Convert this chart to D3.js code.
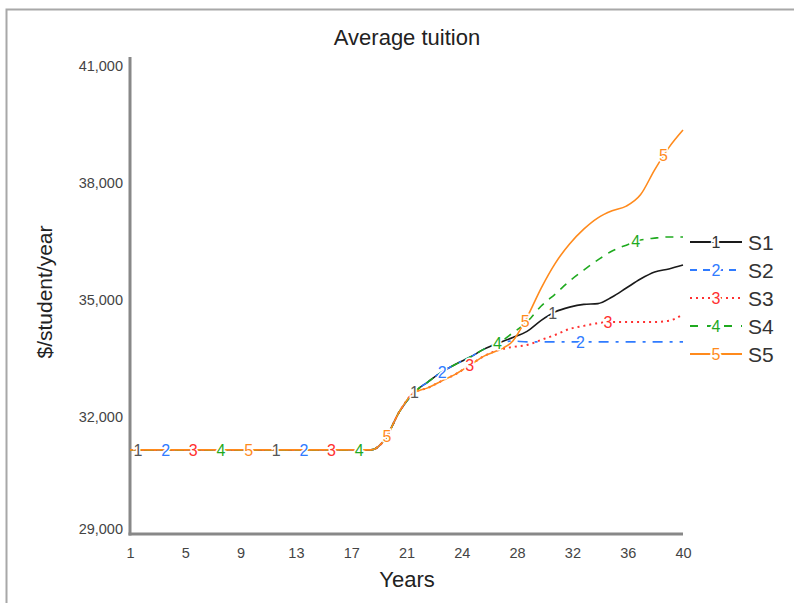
<!DOCTYPE html>
<html><head><meta charset="utf-8">
<script src="https://cdn.jsdelivr.net/npm/d3@7/dist/d3.min.js"></script>
<style>body{margin:0;background:#fff;} svg text{font-family:"Liberation Sans",Arial,sans-serif;}</style>
</head><body><svg id="c" width="794" height="603"></svg>
<script>
// ---- data ----
const years = [1,2,3,4,5,6,7,8,9,10,11,12,13,14,15,16,17,18,19,20,21,22,23,24,25,26,27,28,29,30,31,32,33,34,35,36,37,38,39,40];
const seriesNames = ["S1","S2","S3","S4","S5"];
const s1 = [31080,31080,31080,31080,31080,31080,31080,31080,31080,31080,31080,31080,31080,31080,31080,31080,31080,31080,
  31360,32060,32540,32820,33080,33280,33460,33670,33820,33960,34120,34400,34620,34740,34810,34830,35000,35230,35460,35640,35720,35820];
const s2 = [31080,31080,31080,31080,31080,31080,31080,31080,31080,31080,31080,31080,31080,31080,31080,31080,31080,31080,
  31360,32060,32540,32820,33080,33280,33460,33670,33820,33870,33850,33850,33850,33850,33850,33850,33850,33850,33850,33850,33850,33850];
const s3 = [31080,31080,31080,31080,31080,31080,31080,31080,31080,31080,31080,31080,31080,31080,31080,31080,31080,31080,
  31360,32060,32540,32670,32850,33030,33260,33490,33640,33720,33770,33900,34030,34180,34260,34330,34360,34360,34360,34360,34390,34560];
const s4 = [31080,31080,31080,31080,31080,31080,31080,31080,31080,31080,31080,31080,31080,31080,31080,31080,31080,31080,
  31360,32060,32540,32820,33080,33280,33460,33670,33820,34080,34360,34770,35080,35410,35690,35950,36180,36330,36460,36510,36540,36540];
const s5 = [31080,31080,31080,31080,31080,31080,31080,31080,31080,31080,31080,31080,31080,31080,31080,31080,31080,31080,
  31360,32060,32540,32670,32850,33030,33260,33490,33640,33870,34480,35230,35870,36360,36740,37030,37210,37330,37620,38260,38830,39280];
const yTicks = [29000,32000,35000,38000,41000];
const xTickLabels = ["1","5","9","13","17","21","24","28","32","36","40"];

// ---- styles ----
const colors = ["#1a1a1a","#2f7bff","#ff3030","#1faa1f","#ff8a1c"];
const labelColors = ["#555","#2f7bff","#ff3030","#1faa1f","#ff8a1c"];
const dashes = [null,"10,7,3,7","2,4","8,7",null];

const svg = d3.select("#c");
svg.append("rect").attr("x",6.5).attr("y",9.5).attr("width",820).attr("height",640)
  .attr("fill","none").attr("stroke","#a8a8a8").attr("stroke-width",2);

const x = d3.scaleLinear().domain([1,40]).range([130,683]);
const y = d3.scaleLinear().domain([29000,41000]).range([531,63]);

// title
svg.append("text").attr("x",407).attr("y",45).attr("text-anchor","middle")
  .attr("font-size",22).attr("fill","#222").text("Average tuition");

// axes lines
svg.append("line").attr("x1",130).attr("x2",130).attr("y1",57).attr("y2",535.5).attr("stroke","#888").attr("stroke-width",3);
svg.append("line").attr("x1",128.5).attr("x2",683).attr("y1",534).attr("y2",534).attr("stroke","#888").attr("stroke-width",3);

// y ticks
const yAxis = d3.axisLeft(y).tickValues(yTicks).tickSize(0).tickPadding(7).tickFormat(d3.format(","));
const gy = svg.append("g").attr("transform","translate(130,0)").call(yAxis);
gy.select(".domain").remove();
gy.selectAll("text").attr("font-size",14.5).attr("fill","#444").attr("font-family","Liberation Sans, Arial, sans-serif")
  .attr("dy", d => d===29000 ? "0.2em" : "0.55em");

// x ticks
const xTickVals = xTickLabels.map((l,i)=> 1 + i*(39/(xTickLabels.length-1)));
const xAxis = d3.axisBottom(x).tickValues(xTickVals).tickSize(0).tickPadding(14)
  .tickFormat((d,i)=>xTickLabels[i]);
const gx = svg.append("g").attr("transform","translate(0,534)").call(xAxis);
gx.select(".domain").remove();
gx.selectAll("text").attr("font-size",14.5).attr("fill","#444").attr("font-family","Liberation Sans, Arial, sans-serif");

// axis titles
svg.append("text").attr("x",407).attr("y",587).attr("text-anchor","middle")
  .attr("font-size",22).attr("fill","#222").text("Years");
svg.append("text").attr("transform","translate(52,292) rotate(-90)").attr("text-anchor","middle")
  .attr("font-size",21).attr("fill","#222").text("$/student/year");

// lines
const allSeries = [s1,s2,s3,s4,s5];
const line = d3.line().x((d,i)=>x(years[i])).y(d=>y(d)).curve(d3.curveMonotoneX);
const paths = allSeries.map((s,i)=>{
  const p = svg.append("path").datum(s).attr("d",line).attr("fill","none")
    .attr("stroke",colors[i]).attr("stroke-width", i===2?2:1.6);
  if(dashes[i]) p.attr("stroke-dasharray",dashes[i]);
  return p;
});

// number labels along lines
function pointAtX(node, tx){
  const L = node.getTotalLength();
  let lo=0, hi=L;
  for(let k=0;k<40;k++){
    const mid=(lo+hi)/2;
    if(node.getPointAtLength(mid).x < tx) lo=mid; else hi=mid;
  }
  return node.getPointAtLength((lo+hi)/2);
}
const lblG = svg.append("g");
for(let k=0;k<20;k++){
  const si = k%5;
  const t = 1 + 1.95*(k+0.29);
  const pt = pointAtX(paths[si].node(), x(t));
  lblG.append("text").attr("x",pt.x).attr("y",pt.y).attr("dy","0.36em").attr("text-anchor","middle")
    .attr("font-size",16).attr("fill",labelColors[si])
    .attr("stroke","#fff").attr("stroke-width",3).attr("paint-order","stroke")
    .text(String(si+1));
}

// legend
const legY = d3.scalePoint().domain(seriesNames).range([242,354]);
seriesNames.forEach((n,i)=>{
  const yy = legY(n);
  const l = svg.append("line").attr("x1",690).attr("x2",742).attr("y1",yy).attr("y2",yy)
    .attr("stroke",colors[i]).attr("stroke-width", i===2?2:1.8);
  if(dashes[i]) l.attr("stroke-dasharray", i===1 ? "7,6" : (i===3 ? "8,9" : dashes[i]));
  svg.append("text").attr("x",716).attr("y",yy).attr("dy","0.36em").attr("text-anchor","middle")
    .attr("font-size",16).attr("fill",labelColors[i]==="#555"?"#333":labelColors[i])
    .attr("stroke","#fff").attr("stroke-width",4).attr("paint-order","stroke").text(String(i+1));
  svg.append("text").attr("x",748).attr("y",yy).attr("dy","0.36em")
    .attr("font-size",21).attr("fill","#333").text(n);
});
</script></body></html>
